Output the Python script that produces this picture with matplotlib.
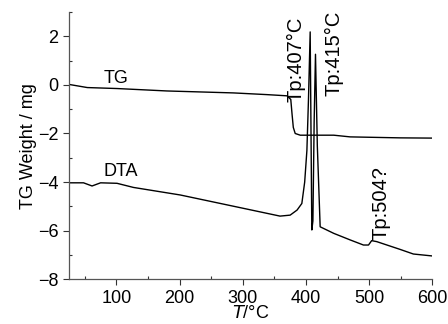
import matplotlib
matplotlib.use("Agg")
import matplotlib.pyplot as plt
from matplotlib.ticker import MultipleLocator

plt.rcParams['font.family'] = ['Liberation Sans', 'DejaVu Sans']

tg_T = [27, 54, 101, 180, 285, 338, 370, 376, 378, 380, 383, 391, 444, 470, 549, 600]
tg_w = [0.01, -0.11, -0.15, -0.25, -0.33, -0.40, -0.45, -0.6, -1.2, -1.75, -2.0, -2.07, -2.07, -2.14, -2.18, -2.19]

dta_T = [25, 48, 61.5, 75, 101, 127, 201, 301, 359, 375, 386, 393.5, 398, 401.5, 404, 406.7,
         409.3, 411, 413, 415.1, 418, 422.5, 444, 470, 491, 499, 504, 512, 549, 570, 600]
dta_v = [-4.03, -4.03, -4.16, -4.03, -4.05, -4.22, -4.53, -5.08, -5.40, -5.36, -5.15, -4.88, -4.0, -2.7, -0.6, 2.18,
         -5.97, -5.6, -1.5, 1.26, -2.5, -5.84, -6.11, -6.38, -6.59, -6.59, -6.41, -6.45, -6.77, -6.96, -7.04]

fig = plt.figure(figsize=(4.48, 3.24), dpi=100)
ax = fig.add_axes([0.154, 0.138, 0.811, 0.825])
ax.plot(tg_T, tg_w, color='black', lw=1.0)
ax.plot(dta_T, dta_v, color='black', lw=1.0)

ax.set_xlim(25, 600)
ax.set_ylim(-8, 3)
ax.set_xticks([100, 200, 300, 400, 500, 600])
ax.set_yticks([-8, -6, -4, -2, 0, 2])
ax.xaxis.set_minor_locator(MultipleLocator(50))
ax.yaxis.set_minor_locator(MultipleLocator(1))
ax.tick_params(which='major', direction='out', length=4, width=0.8, labelsize=13, colors='#333333', labelcolor='black')
ax.tick_params(which='minor', direction='in', length=2, width=0.8, colors='#333333')
ax.set_yticklabels(['\u22128', '\u22126', '\u22124', '\u22122', '0', '2'])
for s in ['top', 'right']:
    ax.spines[s].set_visible(False)
for s in ['left', 'bottom']:
    ax.spines[s].set_color('#555555')
    ax.spines[s].set_linewidth(0.9)

ax.set_ylabel('TG Weight / mg', fontsize=13, labelpad=1)
ax.set_xlabel(r'$T$/°C', fontsize=13, labelpad=-1)

ax.text(80, 0.26, 'TG', fontsize=13, va='center', ha='left')
ax.text(80, -3.57, 'DTA', fontsize=13, va='center', ha='left')
ax.text(385, -0.72, 'Tp:407°C', fontsize=14.5, rotation=90, ha='center', va='bottom')
ax.text(444, -0.45, 'Tp:415°C', fontsize=14.5, rotation=90, ha='center', va='bottom')
ax.text(519, -6.4, 'Tp:504?', fontsize=14.5, rotation=90, ha='center', va='bottom')

fig.savefig('out.png', dpi=100)
